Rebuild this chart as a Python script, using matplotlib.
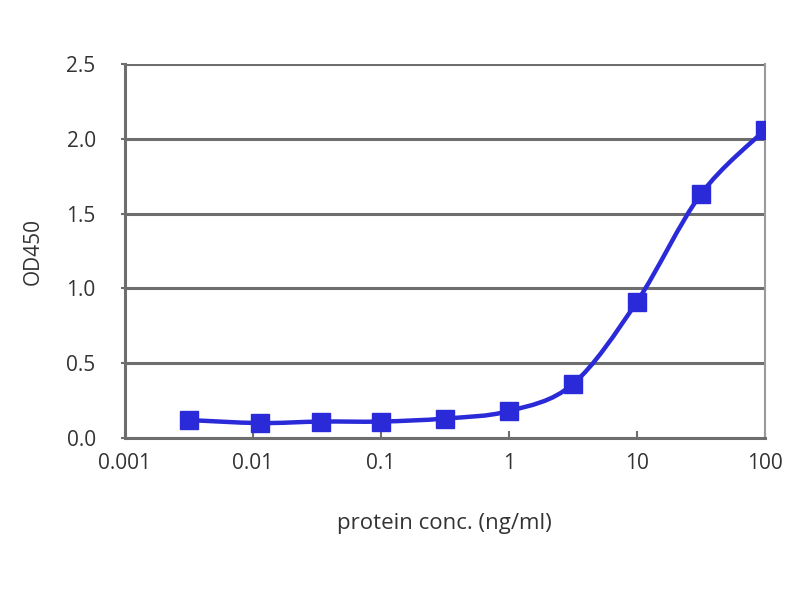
import numpy as np
import matplotlib
matplotlib.use("Agg")
import matplotlib.pyplot as plt
from matplotlib.path import Path
from matplotlib.patches import PathPatch

conc = [0.00316, 0.0113, 0.034, 0.1, 0.316, 1.0, 3.16, 10.0, 31.6, 100.0]
od450 = [0.12, 0.10, 0.11, 0.11, 0.13, 0.18, 0.36, 0.91, 1.63, 2.06]
xticks = [0.001, 0.01, 0.1, 1, 10, 100]
xticklabels = ["0.001", "0.01", "0.1", "1", "10", "100"]
yticks = [0.0, 0.5, 1.0, 1.5, 2.0, 2.5]
yticklabels = ["0.0", "0.5", "1.0", "1.5", "2.0", "2.5"]

plt.rcParams['font.family'] = ['Open Sans', 'DejaVu Sans']
fig = plt.figure(figsize=(8, 6), dpi=100)
ax = fig.add_axes([0.156, 0.27, 0.8, 0.623])
ax.set_xscale('log')
ax.set_xlim(0.001, 100)
ax.set_ylim(0, 2.5)

blue = '#2a2ad8'
# smooth (Excel-style) curve through points in log-x space
lx = np.log10(conc)
y = np.array(od450)
t = 1/6
verts = [(lx[0], y[0])]
codes = [Path.MOVETO]
n = len(lx)
for i in range(n - 1):
    p0 = (lx[max(i-1, 0)], y[max(i-1, 0)])
    p1 = (lx[i], y[i])
    p2 = (lx[i+1], y[i+1])
    p3 = (lx[min(i+2, n-1)], y[min(i+2, n-1)])
    c1 = (p1[0] + (p2[0]-p0[0])*t, p1[1] + (p2[1]-p0[1])*t)
    c2 = (p2[0] - (p3[0]-p1[0])*t, p2[1] - (p3[1]-p1[1])*t)
    verts += [c1, c2, p2]
    codes += [Path.CURVE4]*3
verts = [(10**vx, vy) for vx, vy in verts]
path = Path(verts, codes)
ax.add_patch(PathPatch(path, facecolor='none', edgecolor=blue, lw=3.2, zorder=3))
ax.plot(conc, od450, linestyle='none', marker='s', markersize=13, color=blue, zorder=4)

ax.set_xticks(xticks)
ax.set_xticklabels(xticklabels)
ax.xaxis.set_minor_locator(matplotlib.ticker.NullLocator())
ax.set_yticks(yticks)
ax.set_yticklabels(yticklabels)
ax.yaxis.grid(True, color='#6e6e6e', lw=2.2)
ax.set_axisbelow(True)
for s in ['left', 'bottom']:
    ax.spines[s].set_color('#6e6e6e')
    ax.spines[s].set_linewidth(2.2)
ax.spines['right'].set_color('#9a9a9a')
ax.spines['right'].set_linewidth(1.5)
ax.spines['top'].set_visible(False)
ax.tick_params(axis='x', direction='in', length=5, width=1.5, color='#6e6e6e', labelsize=15, pad=11, labelcolor='#333333')
ax.tick_params(axis='y', direction='out', length=3, width=1.5, color='#6e6e6e', labelsize=15, pad=18, labelcolor='#333333')
ax.set_xlabel('protein conc. (ng/ml)', fontsize=16, color='#333333', labelpad=28)
ax.set_ylabel('OD450', fontsize=15, color='#333333', labelpad=16)
fig.savefig('out.png', dpi=100)
